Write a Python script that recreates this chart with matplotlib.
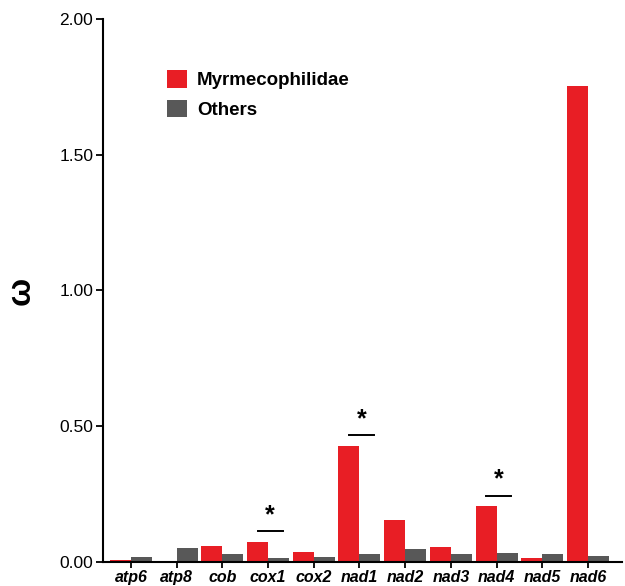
import matplotlib
matplotlib.use("Agg")
import matplotlib.pyplot as plt
import numpy as np

plt.rcParams['font.family'] = ['Liberation Sans', 'DejaVu Sans']

genes = ["atp6", "atp8", "cob", "cox1", "cox2", "nad1", "nad2", "nad3", "nad4", "nad5", "nad6"]
myrme = [0.008, 0.005, 0.060, 0.075, 0.038, 0.428, 0.156, 0.056, 0.206, 0.016, 1.755]
others = [0.020, 0.053, 0.030, 0.016, 0.020, 0.030, 0.048, 0.030, 0.033, 0.030, 0.023]
significant = ["cox1", "nad1", "nad4"]
yticks = [0.0, 0.5, 1.0, 1.5, 2.0]

red = "#E81E25"
grey = "#585858"

fig = plt.figure(figsize=(6.25, 5.86), dpi=100)
ax = fig.add_axes([0.1648, 0.041, 0.8302, 0.9266])

x = np.arange(len(genes))
w = 0.46
ax.bar(x - w / 2, myrme, width=w, color=red, label="Myrmecophilidae")
ax.bar(x + w / 2, others, width=w, color=grey, label="Others")

for g in significant:
    i = genes.index(g)
    top = max(myrme[i], others[i]) + 0.038
    ax.plot([i - 0.23, i + 0.32], [top, top], color="black", lw=1.4)
    ax.text(i + 0.04, top + 0.016, "*", ha="center", va="bottom", fontsize=18, fontweight="bold")

ax.set_xlim(-0.61, 10.74)
ax.set_ylim(0, 2.0)
ax.set_yticks(yticks)
ax.set_yticklabels([f"{t:.2f}" for t in yticks], fontsize=12.5)
ax.set_xticks(x)
ax.set_xticklabels(genes, fontsize=11.5, fontweight="bold", fontstyle="italic")
ax.tick_params(axis="y", direction="out", length=5, width=1.3, pad=2)
ax.tick_params(axis="x", direction="out", length=4, width=1.3, pad=2)
for s in ["top", "right"]:
    ax.spines[s].set_visible(False)
for s in ["left", "bottom"]:
    ax.spines[s].set_linewidth(1.5)

ax.set_ylabel("ω", rotation=90, fontsize=24, fontweight="bold", labelpad=16)

leg = ax.legend(loc="upper left", bbox_to_anchor=(0.09, 0.937), frameon=False,
                prop={"weight": "bold", "size": 13.5}, handlelength=1.07, handleheight=1.07,
                handletextpad=0.55, labelspacing=0.55)

fig.savefig("out.png", dpi=100)
